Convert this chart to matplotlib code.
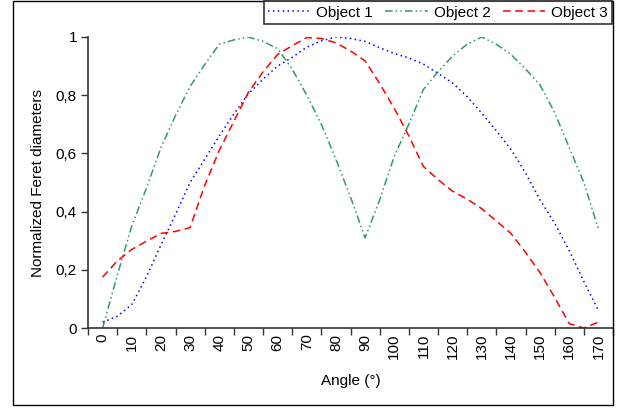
import matplotlib.pyplot as plt
from matplotlib.patches import Rectangle
import numpy as np

plt.rcParams['font.family'] = ['Liberation Sans', 'DejaVu Sans']

# angles every 5 degrees
angles = list(range(0, 175, 5))
object1 = [0.02, 0.04, 0.08, 0.175, 0.285, 0.39, 0.50, 0.58, 0.66, 0.735,
           0.805, 0.855, 0.90, 0.93, 0.965, 0.987, 1.0, 0.995, 0.985, 0.963,
           0.943, 0.928, 0.907, 0.875, 0.842, 0.795, 0.738, 0.678, 0.614, 0.533,
           0.44, 0.36, 0.266, 0.16, 0.06]
object2 = [0.0, 0.18, 0.35, 0.48, 0.62, 0.73, 0.83, 0.905, 0.975, 0.99,
           1.0, 0.985, 0.96, 0.89, 0.80, 0.70, 0.58, 0.45, 0.31, 0.44,
           0.59, 0.70, 0.82, 0.88, 0.935, 0.975, 1.0, 0.975, 0.94, 0.89,
           0.835, 0.74, 0.62, 0.50, 0.34]
object3 = [0.175, 0.23, 0.27, 0.298, 0.325, 0.332, 0.345, 0.49, 0.61, 0.71,
           0.81, 0.88, 0.94, 0.97, 0.998, 0.995, 0.98, 0.952, 0.918, 0.84,
           0.755, 0.66, 0.555, 0.51, 0.47, 0.443, 0.41, 0.368, 0.325, 0.26,
           0.19, 0.105, 0.015, 0.0, 0.02]
tick_labels = list(range(0, 180, 10))
y_ticks = [0, 0.2, 0.4, 0.6, 0.8, 1.0]
y_labels = ['0', '0,2', '0,4', '0,6', '0,8', '1']

W, H = 626, 409
FS = 11
fig = plt.figure(figsize=(W / 100, H / 100), dpi=100)

# outer chart border
fig.patches.append(Rectangle((13 / W, 1 - 405 / H), 600 / W, 404 / H,
                             transform=fig.transFigure, fill=False,
                             edgecolor='black', linewidth=1))

ax = fig.add_axes([88 / W, 1 - 328 / H, 525 / W, 291 / H])

l1, = ax.plot(angles, object1, color='#0000ff', lw=1.1, dashes=(1, 2.2))
l2, = ax.plot(angles, object2, color='#339966', lw=1.1,
              dashes=(5, 2, 1, 2, 1, 2))
l3, = ax.plot(angles, object3, color='#ff0000', lw=1.1, dashes=(5, 3))

ax.set_xlim(-5, 175)
ax.set_ylim(0, 1)
ax.set_xticks(np.arange(-5, 176, 10))
ax.set_xticks(tick_labels, minor=True)
ax.set_xticklabels([])
ax.set_xticklabels([str(t) for t in tick_labels], minor=True, rotation=90,
                   fontsize=FS)
ax.tick_params(axis='x', which='minor', length=0, pad=4)
ax.tick_params(axis='x', which='major', length=5, width=1, color='#333333')
ax.set_yticks(y_ticks)
ax.set_yticklabels(y_labels, fontsize=FS)
ax.tick_params(axis='y', length=5, width=1, color='#333333', pad=3)

for side in ['top', 'right']:
    ax.spines[side].set_visible(False)
for side in ['left', 'bottom']:
    ax.spines[side].set_color('#333333')
    ax.spines[side].set_linewidth(1.2)

fig.text(351 / W, 1 - 381 / H, 'Angle (°)', ha='center', va='center',
         fontsize=FS)
fig.text(38 / W, 1 - 183 / H, 'Normalized Feret diameters', ha='center',
         va='center', rotation=90, fontsize=FS)

leg = fig.legend([l1, l2, l3], ['Object 1', 'Object 2', 'Object 3'],
                 ncol=3, loc='upper right',
                 bbox_to_anchor=(612 / W, 1 - 1 / H), fontsize=FS,
                 frameon=True, fancybox=False, handlelength=2.8,
                 columnspacing=0.8, handletextpad=0.35, borderpad=0.3,
                 borderaxespad=0)
leg.get_frame().set_edgecolor('black')
leg.get_frame().set_linewidth(1.2)

fig.savefig('out.png', dpi=100)
